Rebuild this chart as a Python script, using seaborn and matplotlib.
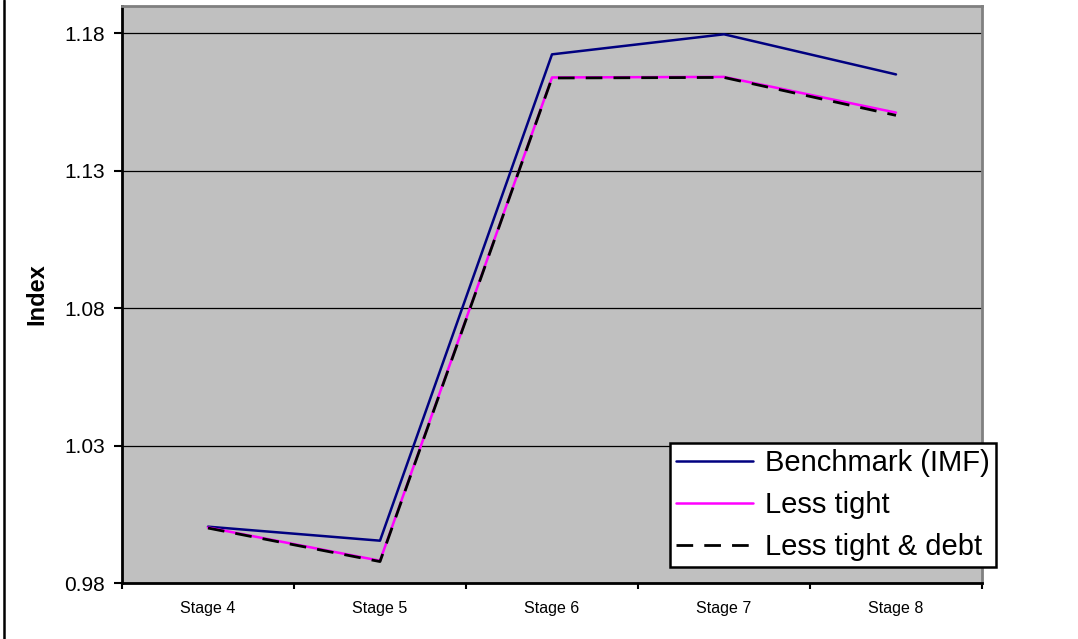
import pandas as pd
import seaborn as sns
import matplotlib.pyplot as plt
from matplotlib.lines import Line2D

# Chart data
stages = ['Stage 4', 'Stage 5', 'Stage 6', 'Stage 7', 'Stage 8']
benchmark = [1.0005, 0.9954, 1.1724, 1.1797, 1.1651]
less_tight = [1.0002, 0.9881, 1.1640, 1.1642, 1.1512]
less_tight_debt = [1.0000, 0.9878, 1.1638, 1.1640, 1.1502]
y_ticks = [0.98, 1.03, 1.08, 1.13, 1.18]

sns.set_style('white')
plt.rcParams['font.family'] = ['Liberation Sans', 'DejaVu Sans']
plt.rcParams.update({'text.color': 'black', 'axes.labelcolor': 'black',
                     'xtick.color': 'black', 'ytick.color': 'black'})

fig = plt.figure(figsize=(10.78, 6.39), dpi=100)
ax = fig.add_axes([122 / 1078, 56 / 639, 860 / 1078, 577 / 639])
ax.set_facecolor('#C0C0C0')

# Horizontal gridlines
for t in y_ticks:
    ax.axhline(t, color='black', lw=0.9, zorder=1)

df = pd.DataFrame({'Stage': stages, 'Benchmark': benchmark,
                   'Less': less_tight, 'Debt': less_tight_debt})

sns.lineplot(data=df, x='Stage', y='Benchmark', ax=ax, color='#000080', lw=1.8,
             label='Benchmark (IMF)', zorder=3, sort=False)
sns.lineplot(data=df, x='Stage', y='Less', ax=ax, color='#FF00FF', lw=1.8,
             label='Less tight', zorder=4, sort=False)
sns.lineplot(data=df, x='Stage', y='Debt', ax=ax, color='black', lw=2.0,
             label='Less tight & debt', zorder=5, sort=False)
ax.lines[-1].set_dashes((6, 4))

ax.set_xlim(-0.5, 4.5)
ax.set_ylim(0.98, 1.19)
ax.set_yticks(y_ticks)
ax.set_yticklabels([f'{t:.2f}' for t in y_ticks])
ax.set_xticks(range(len(stages)))
ax.set_xticklabels(stages)
ax.set_xticks([i + 0.5 for i in range(-1, len(stages))], minor=True)

ax.tick_params(axis='y', which='major', left=True, length=6, width=1.5,
               pad=6, labelsize=15, color='black', labelcolor='black')
ax.tick_params(axis='x', which='major', bottom=True, length=0, pad=13,
               labelsize=11.5, labelcolor='black')
ax.tick_params(axis='x', which='minor', bottom=True, length=4, width=1.5, color='black')

ax.set_xlabel('')
ax.set_ylabel('Index', fontsize=17, fontweight='bold', labelpad=12, color='black')

for side in ['left', 'bottom']:
    ax.spines[side].set_color('black')
    ax.spines[side].set_linewidth(2)
for side in ['top', 'right']:
    ax.spines[side].set_visible(True)
    ax.spines[side].set_color('#808080')
    ax.spines[side].set_linewidth(2)

leg = ax.legend(loc='lower left', bbox_to_anchor=(0.637, 0.028), borderaxespad=0,
                fontsize=21, frameon=True, fancybox=False, framealpha=1,
                edgecolor='black', facecolor='white', handlelength=2.65,
                handletextpad=0.4, labelspacing=0.48, borderpad=0.21,
                labelcolor='black')
leg.get_frame().set_linewidth(1.8)
leg.set_zorder(10)

# Outer chart border (left side only is visible in the crop)
fig.add_artist(Line2D([4 / 1078, 4 / 1078], [0, 1], color='black', lw=1.8,
                      transform=fig.transFigure))

fig.savefig('out.png', dpi=100)
